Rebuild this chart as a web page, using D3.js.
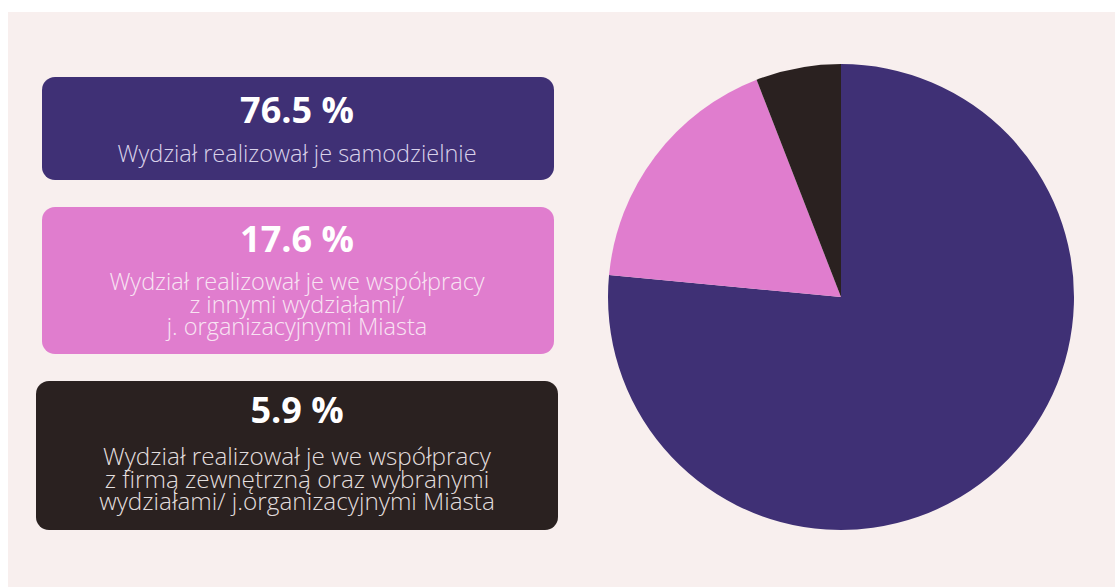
<!DOCTYPE html>
<html>
<head>
<meta charset="utf-8">
<script src="https://cdn.jsdelivr.net/npm/d3@7"></script>
<style>
	body { margin: 0; background: #fff; }
	svg { display: block; font-family: "Open Sans", sans-serif; }
</style>
</head>
<body>
<svg id="chart" width="1115" height="587"></svg>
<script>
var categories = ["samodzielnie", "z innymi wydziałami", "z firmą zewnętrzną"];
var values = [76.5, 17.6, 5.9];
var valueLabels = ["76.5 %", "17.6 %", "5.9 %"];
var descriptions = [
	["Wydział realizował je samodzielnie"],
	["Wydział realizował je we współpracy", "z innymi wydziałami/", "j. organizacyjnymi Miasta"],
	["Wydział realizował je we współpracy", "z firmą zewnętrzną oraz wybranymi", "wydziałami/ j.organizacyjnymi Miasta"]
];
var colors = ["#3f3075", "#e07dce", "#2a2120"];
var textColors = ["#d9d2ea", "#f8e4f3", "#e2dede"];

(function () {
	var svg = d3.select("#chart");

	// background panel
	svg.append("rect")
		.attr("x", 8).attr("y", 12)
		.attr("width", 1107).attr("height", 575)
		.attr("fill", "#f8efee");

	// boxes on the left
	var boxes = [
		{x: 42, y: 77, w: 512, h: 103, title: 123, first: 162, fs: 23.5},
		{x: 42, y: 207, w: 512, h: 147, title: 252, first: 290, fs: 23.5},
		{x: 36, y: 381, w: 522, h: 149, title: 423, first: 465, fs: 24.3}
	];

	var g = svg.append("g");
	var box = g.selectAll(".box")
		.data(categories)
		.enter().append("g")
		.attr("class", "box");

	box.append("rect")
		.attr("x", function (d, i) { return boxes[i].x; })
		.attr("y", function (d, i) { return boxes[i].y; })
		.attr("width", function (d, i) { return boxes[i].w; })
		.attr("height", function (d, i) { return boxes[i].h; })
		.attr("rx", 13)
		.attr("fill", function (d, i) { return colors[i]; });

	box.append("text")
		.attr("x", 297)
		.attr("y", function (d, i) { return boxes[i].title; })
		.attr("text-anchor", "middle")
		.attr("fill", "#fff")
		.style("font-weight", 700)
		.style("font-size", "36px")
		.text(function (d, i) { return valueLabels[i]; });

	box.each(function (d, i) {
		d3.select(this).selectAll(".desc")
			.data(descriptions[i])
			.enter().append("text")
			.attr("class", "desc")
			.attr("x", 297)
			.attr("y", function (t, j) { return boxes[i].first + j * 22.5; })
			.attr("text-anchor", "middle")
			.attr("fill", textColors[i])
			.style("font-weight", 300)
			.style("font-size", boxes[i].fs + "px")
			.text(function (t) { return t; });
	});

	// pie
	var radius = 233;
	var pie = d3.pie().sort(null).value(function (d) { return d; });
	var arc = d3.arc().innerRadius(0).outerRadius(radius);

	svg.append("g")
		.attr("transform", "translate(841,297)")
		.selectAll("path")
		.data(pie(values))
		.enter().append("path")
		.attr("d", arc)
		.attr("fill", function (d, i) { return colors[i]; });
})();
</script>
</body>
</html>
